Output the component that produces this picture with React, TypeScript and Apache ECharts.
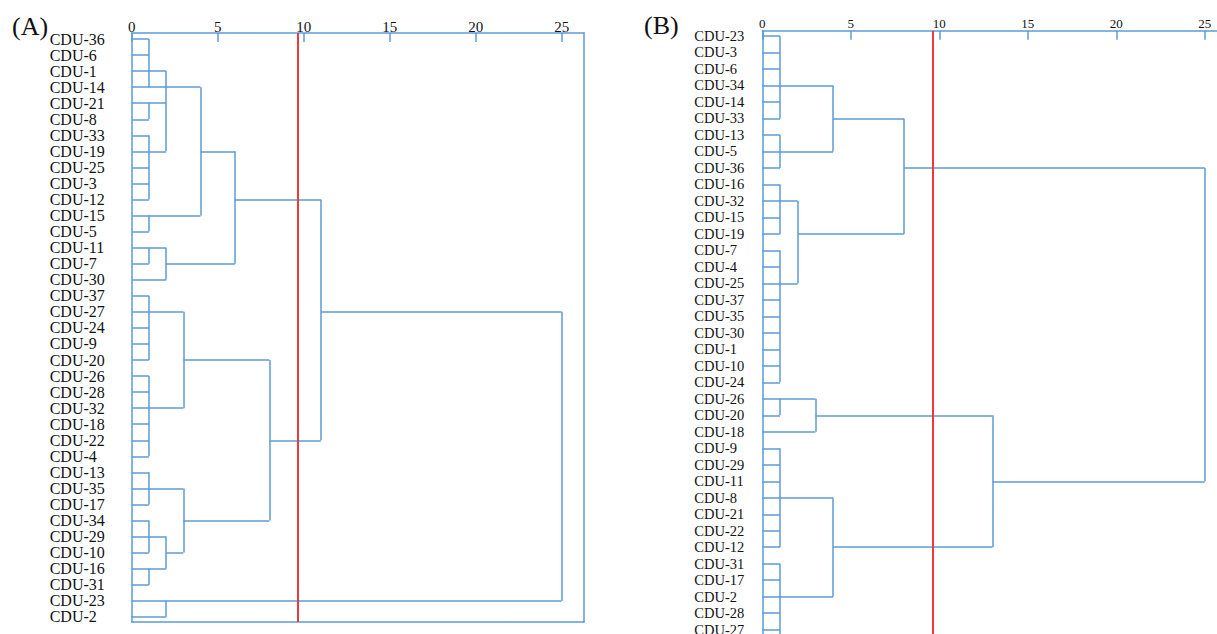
import React, { useEffect, useRef } from "react";
import * as echarts from "echarts";

// Leaf order, panel (A)
const labelsA = [
  "CDU-36", "CDU-6", "CDU-1", "CDU-14", "CDU-21", "CDU-8", "CDU-33", "CDU-19",
  "CDU-25", "CDU-3", "CDU-12", "CDU-15", "CDU-5", "CDU-11", "CDU-7", "CDU-30",
  "CDU-37", "CDU-27", "CDU-24", "CDU-9", "CDU-20", "CDU-26", "CDU-28", "CDU-32",
  "CDU-18", "CDU-22", "CDU-4", "CDU-13", "CDU-35", "CDU-17", "CDU-34", "CDU-29",
  "CDU-10", "CDU-16", "CDU-31", "CDU-23", "CDU-2",
];

// Leaf order, panel (B)
const labelsB = [
  "CDU-23", "CDU-3", "CDU-6", "CDU-34", "CDU-14", "CDU-33", "CDU-13", "CDU-5",
  "CDU-36", "CDU-16", "CDU-32", "CDU-15", "CDU-19", "CDU-7", "CDU-4", "CDU-25",
  "CDU-37", "CDU-35", "CDU-30", "CDU-1", "CDU-10", "CDU-24", "CDU-26", "CDU-20",
  "CDU-18", "CDU-9", "CDU-29", "CDU-11", "CDU-8", "CDU-21", "CDU-22", "CDU-12",
  "CDU-31", "CDU-17", "CDU-2", "CDU-28", "CDU-27",
];

// Horizontal links: [leaf row, distance from, distance to]
const hLinksA: number[][] = [
  [0, 0, 1], [1, 0, 1], [2, 0, 2], [3, 0, 4], [4, 0, 2], [5, 0, 1], [6, 0, 1],
  [7, 0, 2], [7, 4, 6], [8, 0, 1], [9, 0, 1], [10, 0, 1], [10, 6, 11], [11, 0, 4],
  [12, 0, 1], [13, 0, 2], [14, 0, 1], [14, 2, 6], [15, 0, 2], [16, 0, 1], [17, 0, 3],
  [17, 11, 25], [18, 0, 1], [19, 0, 1], [20, 0, 1], [20, 3, 8], [21, 0, 1], [22, 0, 1],
  [23, 0, 3], [24, 0, 1], [25, 0, 1], [25, 8, 11], [26, 0, 1], [27, 0, 1], [28, 0, 3],
  [29, 0, 1], [30, 0, 1], [30, 3, 8], [31, 0, 2], [32, 0, 1], [32, 2, 3], [33, 0, 2],
  [34, 0, 1], [35, 0, 25], [36, 0, 2],
];

// Vertical links: [distance, leaf row from, leaf row to]
const vLinksA: number[][] = [
  [1, 0, 3], [2, 2, 7], [4, 3, 11], [1, 4, 5], [1, 6, 10], [6, 7, 14], [11, 10, 25],
  [1, 11, 12], [1, 13, 14], [2, 13, 15], [1, 16, 20], [3, 17, 23], [8, 20, 30],
  [1, 21, 26], [25, 17, 35], [1, 27, 29], [3, 28, 32], [1, 30, 32], [2, 31, 33],
  [1, 33, 34], [2, 35, 36],
];

const hLinksB: number[][] = [
  [0, 0, 1], [1, 0, 1], [2, 0, 1], [3, 0, 4], [4, 0, 1], [5, 0, 1], [5, 4, 8],
  [6, 0, 1], [7, 0, 4], [8, 0, 1], [8, 8, 25], [9, 0, 1], [10, 0, 2], [11, 0, 1],
  [12, 0, 1], [12, 2, 8], [13, 0, 1], [14, 0, 1], [15, 0, 2], [16, 0, 1], [17, 0, 1],
  [18, 0, 1], [19, 0, 1], [20, 0, 1], [21, 0, 1], [22, 0, 3], [23, 0, 1], [23, 3, 13],
  [24, 0, 3], [25, 0, 1], [26, 0, 1], [27, 0, 1], [27, 13, 25], [28, 0, 4], [29, 0, 1],
  [30, 0, 1], [31, 0, 1], [31, 4, 13], [32, 0, 1], [33, 0, 1], [34, 0, 4], [35, 0, 1],
  [36, 0, 1],
];

const vLinksB: number[][] = [
  [1, 0, 5], [4, 3, 7], [1, 6, 8], [8, 5, 12], [25, 8, 27], [1, 9, 12], [2, 10, 15],
  [1, 13, 21], [1, 22, 23], [3, 22, 24], [13, 23, 31], [1, 25, 31], [4, 28, 34],
  [1, 32, 37],
];

const tickValues = [0, 5, 10, 15, 20, 25];
const cutDistance = 9.65;
const distMax = 26.3;

const BLUE = "#5b9bd5";
const RED = "#ee3a3f";
const SERIF = "'Liberation Serif', 'Times New Roman', serif";

function buildSegments(h: number[][], v: number[][]) {
  return [
    ...h.map(([r, a, b]) => ({ coords: [[a, r], [b, r]] })),
    ...v.map(([x, a, b]) => ({ coords: [[x, a], [x, b]] })),
  ];
}

export default function App() {
  const ref = useRef<HTMLDivElement>(null);

  useEffect(() => {
    if (!ref.current) return;
    const chart = echarts.init(ref.current, null, { renderer: "svg" });

    const yA = { min: -0.374, max: 36.324 };
    const yB = { min: -0.32, max: 37.2 };

    const topAxis = (gridIndex: number, fontSize: number, margin: number) => ({
      type: "value",
      gridIndex,
      position: "top",
      min: 0,
      max: distMax,
      axisLine: { show: true, onZero: false, lineStyle: { color: BLUE, width: 1.5 } },
      axisTick: {
        show: true,
        inside: true,
        length: 9,
        customValues: tickValues,
        lineStyle: { color: BLUE, width: 1.5 },
      },
      axisLabel: {
        show: true,
        customValues: tickValues,
        margin,
        color: "#111",
        fontFamily: SERIF,
        fontSize,
      },
      splitLine: { show: false },
    });

    const leafAxis = (gridIndex: number, labels: string[], range: any, fontSize: number, margin: number) => ({
      type: "value",
      gridIndex,
      position: "left",
      inverse: true,
      min: range.min,
      max: range.max,
      axisLine: { show: true, onZero: false, lineStyle: { color: BLUE, width: 1.5 } },
      axisTick: { show: false },
      axisLabel: {
        show: true,
        customValues: labels.map((_, i) => i),
        formatter: (val: number) => labels[Math.round(val)] ?? "",
        align: "left",
        margin,
        showMinLabel: true,
        showMaxLabel: true,
        hideOverlap: false,
        color: "#111",
        fontFamily: SERIF,
        fontSize,
      },
      splitLine: { show: false },
    });

    const frameAxisCommon = {
      axisTick: { show: false },
      axisLabel: { show: false },
      splitLine: { show: false },
      axisLine: { show: true, onZero: false, lineStyle: { color: BLUE, width: 1.5 } },
    };

    const option: any = {
      animation: false,
      backgroundColor: "#ffffff",
      title: [
        {
          text: "(A)",
          left: 12,
          top: 13,
          padding: 0,
          textStyle: { fontFamily: SERIF, fontSize: 26, fontWeight: "normal", color: "#111" },
        },
        {
          text: "(B)",
          left: 644,
          top: 12,
          padding: 0,
          textStyle: { fontFamily: SERIF, fontSize: 26, fontWeight: "normal", color: "#111" },
        },
      ],
      grid: [
        { left: 131.7, top: 33, width: 452.3, height: 589 },
        { left: 762.3, top: 30.7, width: 465.5, height: 618.8 },
      ],
      xAxis: [
        topAxis(0, 15, -1),
        { type: "value", gridIndex: 0, position: "bottom", min: 0, max: distMax, ...frameAxisCommon },
        topAxis(1, 13, 1),
      ],
      yAxis: [
        leafAxis(0, labelsA, yA, 16, 82),
        { type: "value", gridIndex: 0, position: "right", inverse: true, min: yA.min, max: yA.max, ...frameAxisCommon },
        leafAxis(1, labelsB, yB, 14.5, 68),
      ],
      series: [
        {
          type: "lines",
          coordinateSystem: "cartesian2d",
          xAxisIndex: 0,
          yAxisIndex: 0,
          lineStyle: { color: BLUE, width: 1.5, opacity: 1 },
          data: buildSegments(hLinksA, vLinksA),
          silent: true,
        },
        {
          type: "lines",
          coordinateSystem: "cartesian2d",
          xAxisIndex: 0,
          yAxisIndex: 0,
          lineStyle: { color: RED, width: 2, opacity: 1 },
          data: [{ coords: [[cutDistance, yA.min], [cutDistance, yA.max]] }],
          silent: true,
          z: 3,
        },
        {
          type: "lines",
          coordinateSystem: "cartesian2d",
          xAxisIndex: 2,
          yAxisIndex: 2,
          lineStyle: { color: BLUE, width: 1.5, opacity: 1 },
          data: buildSegments(hLinksB, vLinksB),
          silent: true,
        },
        {
          type: "lines",
          coordinateSystem: "cartesian2d",
          xAxisIndex: 2,
          yAxisIndex: 2,
          lineStyle: { color: RED, width: 2, opacity: 1 },
          data: [{ coords: [[cutDistance, yB.min], [cutDistance, yB.max]] }],
          silent: true,
          z: 3,
        },
      ],
    };

    chart.setOption(option);
    return () => chart.dispose();
  }, []);

  return (
    <div
      style={{
        position: "fixed",
        left: 0,
        top: 0,
        width: 1217,
        height: 634,
        overflow: "hidden",
        background: "#fff",
      }}
    >
      <div ref={ref} style={{ width: 1240, height: 660 }} />
    </div>
  );
}
